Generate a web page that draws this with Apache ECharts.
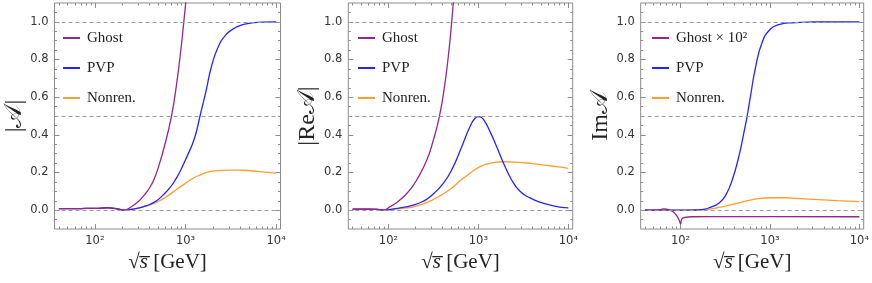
<!DOCTYPE html>
<html><head><meta charset="utf-8">
<script src="https://cdn.jsdelivr.net/npm/echarts@6/dist/echarts.min.js"></script>
<style>html,body{margin:0;padding:0;background:#fff}#c{width:872px;height:283px}</style>
</head><body><div id="c"></div>
<script>
// ---------------- data (x = sqrt(s) in GeV) ----------------
const panelTitles = ['|𝒜|', '|Re𝒜|', 'Im𝒜'];
const xTitle = '{r|√}{s|s̅}{t| [GeV]}';
const panel1Names = ['Ghost', 'PVP', 'Nonren.'];
const panel2Names = ['Ghost', 'PVP', 'Nonren.'];
const panel3Names = ['Ghost × 10²', 'PVP', 'Nonren.'];
const xMajorTicks = [100, 1000, 10000];
const xMajorLabels = ['10²', '10³', '10⁴'];
const xMinorTicks = [40, 50, 60, 70, 80, 90, 200, 300, 400, 500, 600, 700, 800, 900,
  2000, 3000, 4000, 5000, 6000, 7000, 8000, 9000];
const yMajorTicks = [0, 0.2, 0.4, 0.6, 0.8, 1.0];
const yMinorTicks = [-0.05, 0.05, 0.1, 0.15, 0.25, 0.3, 0.35, 0.45, 0.5, 0.55, 0.65, 0.7, 0.75,
  0.85, 0.9, 0.95, 1.05];
const refLines = [0, 0.5, 1.0];

// panel 1: |A|
const absGhost = [[40,0.008],[60,0.008],[80,0.009],[100,0.010],[120,0.012],[137,0.014],[160,0.011],[185,0.005],[208,0],
  [250,0.017],[300,0.045],[350,0.08],[402,0.119],[450,0.165],[497,0.222],[587,0.342],[697,0.495],
  [789,0.655],[895,0.865],[957,1.0],[1000,1.09],[1050,1.2],[1100,1.33]];
const absPVP = [[40,0.008],[60,0.008],[80,0.009],[100,0.009],[120,0.011],[137,0.012],[160,0.010],[185,0.004],[208,0],
  [250,0.004],[300,0.011],[350,0.02],[402,0.03],[480,0.05],[564,0.08],[680,0.122],[789,0.169],[900,0.22],
  [1016,0.275],[1256,0.382],[1445,0.5],[1687,0.635],[1914,0.755],[2265,0.861],[2799,0.932],
  [3451,0.966],[3917,0.979],[5000,0.992],[7000,0.998],[10000,1.0]];
const absNonren = [[40,0.008],[60,0.008],[80,0.009],[100,0.009],[120,0.011],[137,0.012],[160,0.010],[185,0.004],[208,0],
  [250,0.004],[300,0.011],[350,0.019],[402,0.027],[500,0.046],[614,0.071],[750,0.101],[933,0.133],
  [1200,0.168],[1426,0.186],[1800,0.203],[2173,0.21],[3000,0.213],[4000,0.213],[5600,0.208],
  [7500,0.202],[10000,0.197]];

// panel 2: |Re A|
const reGhost = [[40,0.005],[60,0.005],[75,0.004],[83,0.002],[89,0],[104,0.018],[125,0.042],[147,0.071],
  [175,0.11],[206,0.16],[267,0.266],[316,0.373],[368,0.497],[415,0.639],[463,0.817],[505,1.0],
  [526,1.104],[560,1.28]];
const rePVP = [[40,0.005],[60,0.005],[75,0.004],[83,0.002],[89,0],[105,0.004],[124,0.009],[150,0.016],
  [189,0.027],[240,0.046],[290,0.071],[407,0.142],[526,0.231],[652,0.337],[807,0.444],[917,0.488],
  [1016,0.497],[1133,0.483],[1346,0.417],[1596,0.337],[1892,0.252],[2344,0.16],[2900,0.1],
  [3741,0.065],[5000,0.04],[7000,0.022],[10000,0.012]];
const reNonren = [[40,0.005],[60,0.005],[75,0.004],[83,0.002],[89,0],[105,0.003],[124,0.007],[150,0.011],
  [189,0.018],[290,0.048],[444,0.098],[679,0.169],[1042,0.231],[1466,0.252],[1892,0.257],
  [2667,0.255],[3741,0.249],[5500,0.239],[7500,0.231],[10000,0.222]];

// panel 3: Im A
const imGhost = [[40,0],[55,0.001],[60,0.003],[65,0.007],[70,0.005],[76,0.0],[83,-0.01],[90,-0.028],
  [96,-0.051],[100,-0.073],[103,-0.047],[111,-0.039],[138,-0.035],[300,-0.034],[1000,-0.034],
  [10000,-0.035]];
const imPVP = [[40,0],[100,0],[150,0.001],[180,0.004],[210,0.013],[270,0.038],[320,0.08],[378,0.16],
  [448,0.284],[509,0.408],[554,0.497],[603,0.6],[684,0.75],[809,0.885],[1000,0.959],
  [1288,0.986],[1727,0.995],[3000,0.999],[10000,1.0]];
const imNonren = [[40,0],[100,0],[130,0.001],[163,0.002],[210,0.006],[294,0.018],[448,0.039],
  [684,0.059],[1042,0.066],[1463,0.066],[2047,0.062],[3500,0.056],[5623,0.051],[10000,0.045]];

// ---------------- chart ----------------
const colors = ['#93278f', '#2424ff', '#ff9d2e'];
const frameColor = '#8c8c8c';
const X_MIN = 35.8, X_MAX = 11170;
const grids = [
  {left: 54.5, top: 3, width: 226, height: 226},
  {left: 348.3, top: 3, width: 224.4, height: 226},
  {left: 640.7, top: 3, width: 224.3, height: 226}
];
const legendLeft = [63, 358, 652];
const panelData = [[absGhost, absPVP, absNonren], [reGhost, rePVP, reNonren], [imGhost, imPVP, imNonren]];
const panelNames = [panel1Names, panel2Names, panel3Names];

function xLabel(v) {
  const i = xMajorTicks.findIndex(t => Math.abs(t - v) / t < 1e-3);
  return i >= 0 ? xMajorLabels[i] : '';
}
const serif = 'Liberation Serif';
function xAx(g, pos, ticks, len, withLabels) {
  return {
    type: 'log', logBase: 10, gridIndex: g, position: pos, min: X_MIN, max: X_MAX,
    axisLine: {show: false, onZero: false}, splitLine: {show: false}, minorTick: {show: false},
    axisTick: {show: true, inside: true, length: len, customValues: ticks, lineStyle: {color: frameColor, width: 1}},
    axisLabel: withLabels ? {show: true, customValues: xMajorTicks, formatter: xLabel, margin: 6,
      color: '#333', fontSize: 11.5, fontFamily: 'DejaVu Sans'} : {show: false},
    name: withLabels ? xTitle : '', nameLocation: 'middle', nameGap: 23,
    nameTextStyle: {fontFamily: serif, fontSize: 21, color: '#222',
      rich: {
        r: {fontFamily: serif, fontSize: 21, color: '#222'},
        s: {fontFamily: serif, fontSize: 21, color: '#222', fontStyle: 'italic'},
        t: {fontFamily: serif, fontSize: 21, color: '#222'}
      }}
  };
}
function yAx(g, pos, ticks, len, withLabels) {
  return {
    type: 'value', gridIndex: g, position: pos, min: -0.1, max: 1.1,
    axisLine: {show: false, onZero: false}, splitLine: {show: false},
    axisTick: {show: true, inside: true, length: len, customValues: ticks, lineStyle: {color: frameColor, width: 1}},
    axisLabel: withLabels ? {show: true, customValues: yMajorTicks, formatter: v => v.toFixed(1), margin: 6,
      color: '#333', fontSize: 11.5, fontFamily: 'DejaVu Sans'} : {show: false},
    name: withLabels ? panelTitles[g] : '', nameLocation: 'middle', nameGap: 27, nameRotate: 90,
    nameTextStyle: {fontFamily: serif, fontSize: 24, color: '#222'}
  };
}

const xAxis = [], yAxis = [], series = [];
grids.forEach((gr, g) => {
  xAxis.push(xAx(g, 'bottom', xMajorTicks, 5, true), xAx(g, 'bottom', xMinorTicks, 2.5, false),
             xAx(g, 'top', xMajorTicks, 5, false), xAx(g, 'top', xMinorTicks, 2.5, false));
  yAxis.push(yAx(g, 'left', yMajorTicks, 5, true), yAx(g, 'left', yMinorTicks, 2.5, false),
             yAx(g, 'right', yMajorTicks, 5, false), yAx(g, 'right', yMinorTicks, 2.5, false));
  panelData[g].forEach((d, k) => {
    const s = {
      type: 'line', name: panelNames[g][k], xAxisIndex: 4 * g, yAxisIndex: 4 * g,
      data: d, smooth: 0.5, showSymbol: false, symbol: 'none', clip: true,
      lineStyle: {color: colors[k], width: 1.3}, itemStyle: {color: colors[k]}, z: 3 - k
    };
    if (k === 0) {
      s.markLine = {silent: true, symbol: ['none', 'none'], label: {show: false},
        lineStyle: {type: [4, 3], color: '#9a9a9a', width: 1},
        data: refLines.map(v => ({yAxis: v}))};
    }
    series.push(s);
  });
});

const chart = echarts.init(document.getElementById('c'), null, {renderer: 'canvas'});
chart.setOption({
  animation: false,
  backgroundColor: '#fff',
  grid: grids.map(gr => Object.assign({show: true, borderColor: frameColor, borderWidth: 1,
    backgroundColor: 'transparent', containLabel: false}, gr)),
  legend: panelNames.map((names, g) => ({
    data: names, orient: 'vertical', left: legendLeft[g], top: 30, padding: 0,
    itemWidth: 17, itemHeight: 2, itemGap: 14, icon: 'rect', selectedMode: false,
    textStyle: {fontFamily: serif, fontSize: 15, color: '#222', lineHeight: 16, padding: [0, 0, 0, 2]}
  })),
  xAxis, yAxis, series
});
</script></body></html>
